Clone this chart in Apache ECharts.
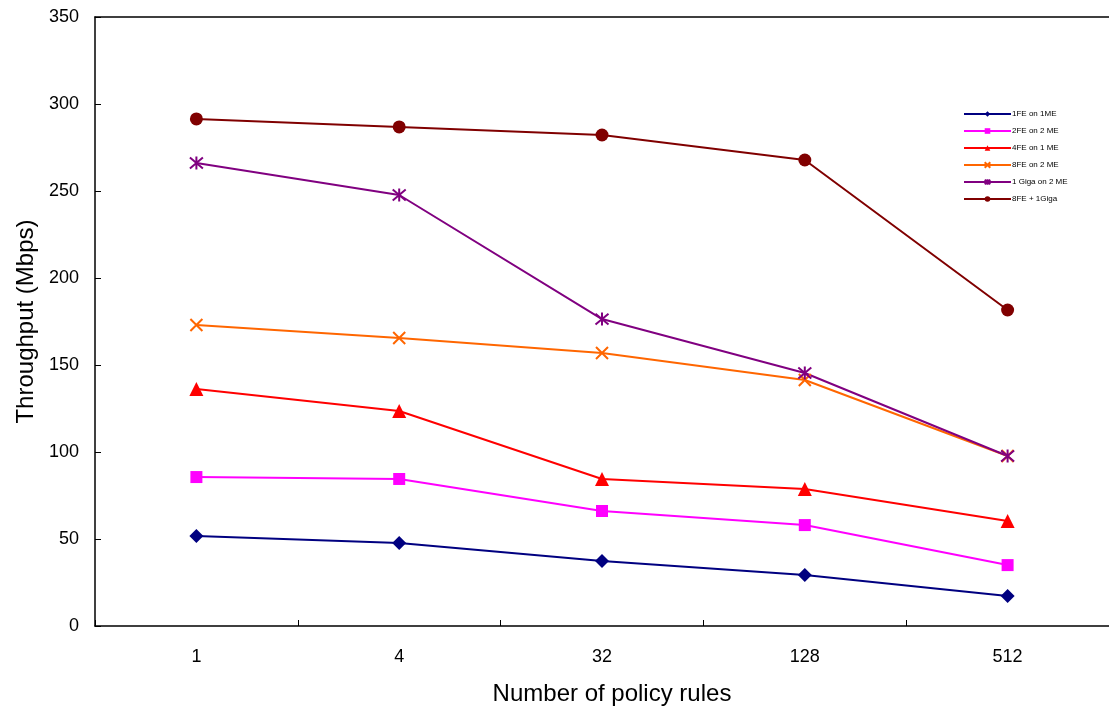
<!DOCTYPE html>
<html>
<head>
<meta charset="utf-8">
<script src="https://cdn.jsdelivr.net/npm/echarts@6/dist/echarts.min.js"></script>
<style>html,body{margin:0;padding:0;background:#fff;}#c{width:1109px;height:718px;}</style>
</head>
<body>
<div id="c"></div>
<script>
const categories = ['1', '4', '32', '128', '512'];
const s1FE = [51.7, 47.7, 37.4, 29.3, 17.2];
const s2FE = [85.6, 84.5, 66.1, 58.0, 35.0];
const s4FE = [136.2, 123.6, 84.5, 78.7, 60.3];
const s8FE = [173.0, 165.5, 156.9, 141.4, 97.7];
const s1Giga = [266.1, 247.7, 176.4, 145.4, 97.7];
const s8FE1Giga = [291.4, 286.8, 282.2, 267.8, 181.6];
const seriesNames = ['1FE on 1ME', '2FE on 2 ME', '4FE on 1 ME', '8FE on 2 ME', '1 Giga on 2 ME', '8FE + 1Giga'];

const chart = echarts.init(document.getElementById('c'));
const font = '"Liberation Sans", Arial, sans-serif';
function mk(name, data, color, symbol, size, stroke) {
  return {
    name, type: 'line', data, symbol, symbolSize: size, xAxisIndex: 0,
    lineStyle: { color, width: 2 },
    itemStyle: stroke ? { color: 'rgba(0,0,0,0)', borderColor: color, borderWidth: 2 } : { color },
    emphasis: { disabled: true },
    z: 2
  };
}
chart.setOption({
  animation: false,
  grid: { left: 95, top: 17, right: -1, bottom: 92 },
  legend: {
    orient: 'vertical', left: 958, top: 105, itemWidth: 47, itemHeight: 7, itemGap: 9,
    textStyle: { fontSize: 8, fontFamily: font, color: '#000', padding: [0, 0, 0, -4] },
    data: seriesNames
  },
  xAxis: [{
    type: 'category', data: categories, boundaryGap: true, position: 'bottom',
    name: 'Number of policy rules', nameLocation: 'middle', nameGap: 56,
    nameTextStyle: { fontSize: 24, fontFamily: font, color: '#000', padding: [0, 0, 0, 20] },
    axisLine: { show: true, lineStyle: { color: '#000', width: 1.5 } },
    axisTick: { show: true, inside: true, length: 6, interval: 0, lineStyle: { color: '#000', width: 1 } },
    axisLabel: { fontSize: 18, fontFamily: font, color: '#000', margin: 22 },
    splitLine: { show: false }
  }, {
    type: 'category', data: categories, position: 'top',
    axisLine: { show: true, lineStyle: { color: '#000', width: 1.5 } },
    axisTick: { show: false }, axisLabel: { show: false }, splitLine: { show: false }
  }],
  yAxis: {
    type: 'value', min: 0, max: 350, interval: 50,
    name: 'Throughput (Mbps)', nameLocation: 'middle', nameGap: 56, nameRotate: 90,
    nameTextStyle: { fontSize: 24, fontFamily: font, color: '#000' },
    axisLine: { show: true, lineStyle: { color: '#000', width: 1.5 } },
    axisTick: { show: true, inside: true, length: 6, lineStyle: { color: '#000', width: 1 } },
    axisLabel: { fontSize: 18, fontFamily: font, color: '#000', margin: 16 },
    splitLine: { show: false }
  },
  series: [
    mk(seriesNames[0], s1FE, '#000080', 'diamond', 14),
    mk(seriesNames[1], s2FE, '#FF00FF', 'rect', 12),
    mk(seriesNames[2], s4FE, '#FF0000', 'triangle', 14),
    mk(seriesNames[3], s8FE, '#FF6600', 'path://M0,0L10,10M10,0L0,10', 12, true),
    mk(seriesNames[4], s1Giga, '#800080', 'path://M0,0L10,10M10,0L0,10M5,-1L5,11', 13, true),
    mk(seriesNames[5], s8FE1Giga, '#800000', 'circle', 13)
  ]
});
</script>
</body>
</html>
